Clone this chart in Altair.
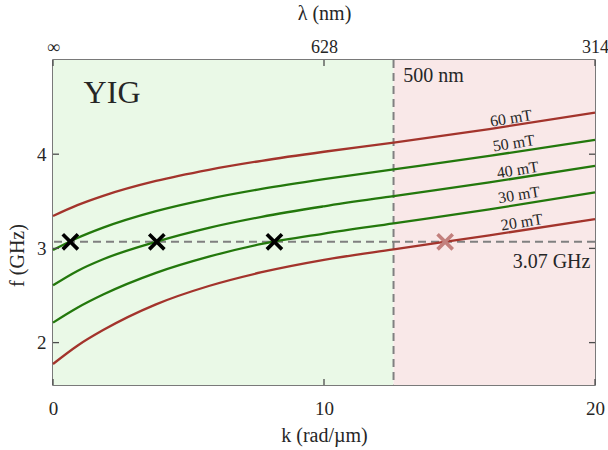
import altair as alt
import pandas as pd

# ---------------- data ----------------
k_vals = [0, 0.9, 1.85, 3.8, 5.75, 7.7, 10, 12.57, 16.1, 20]
f_20mT = [1.773, 1.967, 2.133, 2.406, 2.601, 2.747, 2.878, 2.99, 3.138, 3.312]
f_30mT = [2.212, 2.37, 2.51, 2.74, 2.912, 3.047, 3.158, 3.266, 3.414, 3.595]
f_40mT = [2.608, 2.761, 2.885, 3.07, 3.218, 3.335, 3.447, 3.556, 3.701, 3.875]
f_50mT = [2.983, 3.111, 3.221, 3.396, 3.527, 3.632, 3.736, 3.839, 3.982, 4.151]
f_60mT = [3.344, 3.459, 3.558, 3.716, 3.834, 3.930, 4.026, 4.122, 4.267, 4.441]
field_names = ["20 mT", "30 mT", "40 mT", "50 mT", "60 mT"]
field_series = [f_20mT, f_30mT, f_40mT, f_50mT, f_60mT]
field_colors = ["#A3342C", "#23780C", "#23780C", "#23780C", "#A3342C"]

# curve labels
label_k = [17.3, 17.2, 17.15, 17.0, 16.9]
label_f = [3.277, 3.567, 3.832, 4.115, 4.38]

# crossing markers with the 3.07 GHz line
cross_k = [0.64, 3.83, 8.17, 14.47]
cross_kind = ["ok", "ok", "ok", "out"]
f_target = 3.07
k_500nm = 12.566

# regions
region_names = ["green", "red"]
region_k0 = [0, k_500nm]
region_k1 = [k_500nm, 20]
region_colors = ["#EAF9E7", "#F9E8E8"]

k_domain = [0, 20]
f_domain = [1.55, 5.0]
bottom_ticks = [0, 10, 20]
left_ticks = [2, 3, 4]
top_tick_k = [0, 10, 20]
top_tick_labels = ["∞", "628", "314"]

FONT = "Liberation Serif, Times New Roman, DejaVu Serif, serif"
W, H = 542, 325

# ---------------- tables ----------------
curves = pd.DataFrame(
    [{"k": k, "f": f, "field": name}
     for name, ser in zip(field_names, field_series)
     for k, f in zip(k_vals, ser)]
)
labels_df = pd.DataFrame({"k": label_k, "f": label_f, "text": field_names})
cross_df = pd.DataFrame({"k": cross_k, "f": [f_target] * len(cross_k), "kind": cross_kind})
region_df = pd.DataFrame({"region": region_names, "k0": region_k0, "k1": region_k1,
                          "f0": [f_domain[0]] * 2, "f1": [f_domain[1]] * 2})
vline_df = pd.DataFrame({"k": [k_500nm]})
hline_df = pd.DataFrame({"f": [f_target]})
xt_df = pd.DataFrame({"k": bottom_ticks})
yt_df = pd.DataFrame({"f": left_ticks})


def xs():
    return alt.Scale(domain=k_domain, nice=False, zero=False)


def ys():
    return alt.Scale(domain=f_domain, nice=False, zero=False)


top_expr = " : ".join(
    f"datum.value == {v} ? '{t}'" for v, t in zip(top_tick_k[:-1], top_tick_labels[:-1])
) + f" : '{top_tick_labels[-1]}'"

axis_common = dict(labelFont=FONT, titleFont=FONT, labelColor="#262626", titleColor="#262626",
                   domain=False, ticks=False, grid=False, labelFontWeight="normal",
                   titleFontWeight="normal", labelOverlap=False, labelFlush=False, labelBound=False)


def X(field):
    return alt.X(field, scale=xs(), axis=None)


def Y(field):
    return alt.Y(field, scale=ys(), axis=None)


regions = alt.Chart(region_df).mark_rect().encode(
    x=alt.X("k0:Q", scale=xs(), axis=alt.Axis(values=bottom_ticks, format="d", title="k (rad/µm)",
                                              labelFontSize=19, titleFontSize=20, labelPadding=14,
                                              titlePadding=7, **axis_common)),
    x2="k1:Q",
    y=alt.Y("f0:Q", scale=ys(), axis=alt.Axis(values=left_ticks, format="d", title="f (GHz)",
                                              labelFontSize=19, titleFontSize=20, labelPadding=7,
                                              titlePadding=9, titleY=195, **axis_common)),
    y2="f1:Q",
    fill=alt.Fill("region:N", scale=alt.Scale(domain=region_names, range=region_colors), legend=None),
)

dash = [8, 5]
vline = alt.Chart(vline_df).mark_rule(color="#808080", strokeWidth=2, strokeDash=dash).encode(
    x=alt.X("k:Q", scale=xs(), axis=alt.Axis(orient="top", values=top_tick_k, labelExpr=top_expr,
                                             title="λ  (nm)", labelFontSize=18, titleFontSize=20,
                                             labelPadding=4, titlePadding=15, **axis_common)),
)
hline = alt.Chart(hline_df).mark_rule(color="#808080", strokeWidth=2, strokeDash=dash).encode(
    y=Y("f:Q")
)

lines = alt.Chart(curves).mark_line(interpolate="monotone", strokeWidth=2.3).encode(
    x=X("k:Q"),
    y=Y("f:Q"),
    stroke=alt.Stroke("field:N", scale=alt.Scale(domain=field_names, range=field_colors), legend=None),
    detail="field:N",
)

cross_path = "M-1,-1L1,1M-1,1L1,-1"
crosses = alt.Chart(cross_df).mark_point(shape=cross_path, filled=False, size=230,
                                         strokeWidth=3.6, opacity=1).encode(
    x=X("k:Q"),
    y=Y("f:Q"),
    color=alt.Color("kind:N", scale=alt.Scale(domain=["ok", "out"], range=["#000000", "#C3807D"]),
                    legend=None),
)

curve_labels = alt.Chart(labels_df).mark_text(font=FONT, fontSize=16, angle=351,
                                              color="#262626").encode(
    x=X("k:Q"), y=Y("f:Q"), text="text:N"
)

annot_df = pd.DataFrame({
    "k": [1.13, 12.92, 19.83],
    "f": [4.646, 4.83, 2.86],
    "text": ["YIG", "500 nm", "3.07 GHz"],
    "size": [32, 20, 20],
    "align": ["left", "left", "right"],
})
annot_left = alt.Chart(annot_df[annot_df["align"] == "left"]).mark_text(
    font=FONT, align="left", baseline="middle", color="#262626").encode(
    x=X("k:Q"), y=Y("f:Q"), text="text:N",
    size=alt.Size("size:Q", scale=None, legend=None),
)
annot_right = alt.Chart(annot_df[annot_df["align"] == "right"]).mark_text(
    font=FONT, align="right", baseline="middle", color="#262626").encode(
    x=X("k:Q"), y=Y("f:Q"), text="text:N",
    size=alt.Size("size:Q", scale=None, legend=None),
)

TICK = 6
tick_color = "#4d4d4d"
xt_bottom = alt.Chart(xt_df).mark_rule(color=tick_color, strokeWidth=1.3).encode(
    x=X("k:Q"), y=alt.value(H), y2=alt.value(H - TICK))
xt_top = alt.Chart(xt_df).mark_rule(color=tick_color, strokeWidth=1.3).encode(
    x=X("k:Q"), y=alt.value(0), y2=alt.value(TICK))
yt_left = alt.Chart(yt_df).mark_rule(color=tick_color, strokeWidth=1.3).encode(
    y=Y("f:Q"), x=alt.value(0), x2=alt.value(TICK))
yt_right = alt.Chart(yt_df).mark_rule(color=tick_color, strokeWidth=1.3).encode(
    y=Y("f:Q"), x=alt.value(W), x2=alt.value(W - TICK))

chart = alt.layer(
    regions, vline, hline, lines, crosses, curve_labels, annot_left, annot_right,
    xt_bottom, xt_top, yt_left, yt_right,
).resolve_scale(
    x="independent", y="independent", color="independent", size="independent"
).properties(
    width=W, height=H,
    autosize=alt.AutoSizeParams(type="none"),
    padding={"left": 53, "top": 60, "right": 13, "bottom": 65},
    background="white",
).configure_view(stroke="#4d4d4d", strokeWidth=1.5)

chart.save("out.html", embed_options={"renderer": "svg", "actions": False})
